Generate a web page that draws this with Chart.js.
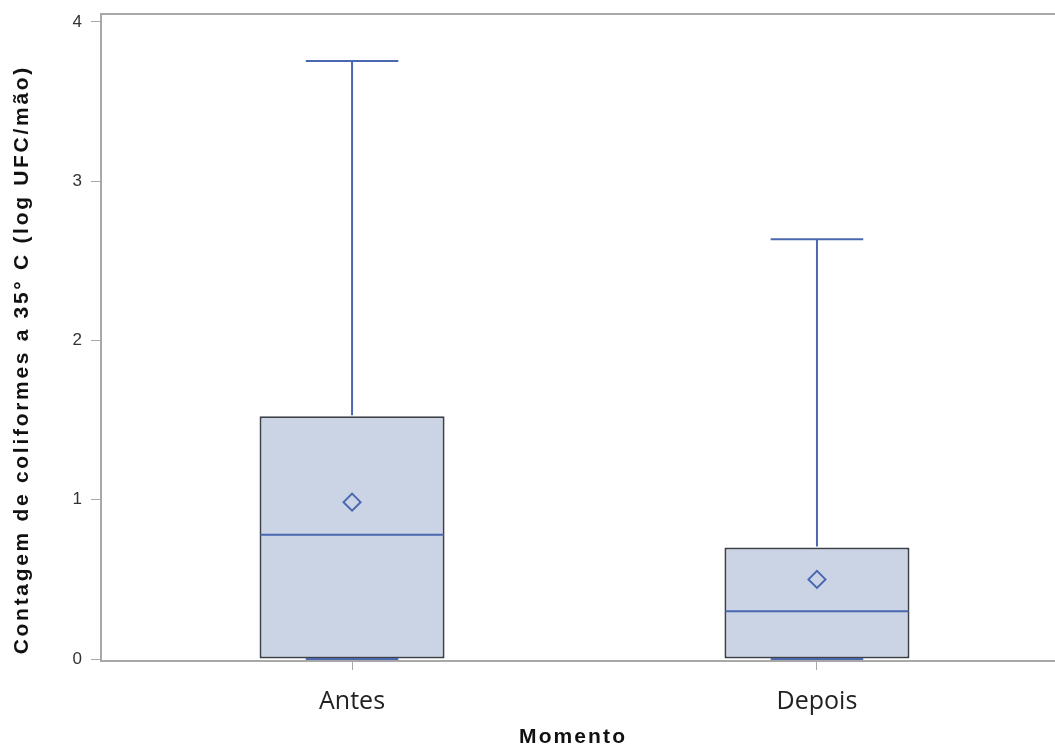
<!DOCTYPE html>
<html>
<head>
<meta charset="utf-8">
<title>Contagem de coliformes</title>
<script src="https://cdn.jsdelivr.net/npm/chart.js@4/dist/chart.umd.min.js"></script>
<style>
  html, body { margin: 0; padding: 0; background: #fff; }
  #wrap { width: 1055px; height: 747px; position: relative; }
</style>
</head>
<body>
<div id="wrap"><canvas id="boxChart"></canvas></div>
<script>
// summary statistics per moment (log UFC/mão)
const categories = ['Antes', 'Depois'];
const minVals = [0, 0];
const q1Vals = [0, 0];
const medianVals = [0.78, 0.30];
const q3Vals = [1.525, 0.70];
const maxVals = [3.755, 2.635];
const meanVals = [0.985, 0.50];
const yTicks = [0, 1, 2, 3, 4];

const xTitle = 'Momento';
const yTitle = 'Contagem de coliformes a 35° C (log UFC/mão)';

const boxFill = '#cbd4e4';
const boxEdge = '#3b4049';
const blue = '#4a67b0';
const axisGray = '#a8a8a8';

const positions = categories.map((c, i) => i + 1);

// spaced-out bold text, drawn glyph by glyph and centred on (0,0)
function spacedText(ctx, text, spacing) {
  const widths = [...text].map(ch => ctx.measureText(ch).width);
  const total = widths.reduce((a, b) => a + b, 0) + spacing * (widths.length - 1);
  let pos = -total / 2;
  [...text].forEach((ch, i) => {
    ctx.fillText(ch, pos, 0);
    pos += widths[i] + spacing;
  });
}

// whiskers, caps, medians, frame top line and axis titles
const boxExtras = {
  id: 'boxExtras',
  afterDatasetsDraw(chart) {
    const ctx = chart.ctx;
    const x = chart.scales.x, y = chart.scales.y;
    const bars = chart.getDatasetMeta(0).data;
    ctx.save();
    ctx.strokeStyle = blue;
    ctx.lineWidth = 2;
    bars.forEach((bar, i) => {
      const cx = x.getPixelForValue(positions[i]);
      const half = bar.width / 2;
      const cap = bar.width / 4;
      const yMax = y.getPixelForValue(maxVals[i]);
      const yQ3 = y.getPixelForValue(q3Vals[i]);
      const yQ1 = y.getPixelForValue(q1Vals[i]);
      const yMin = y.getPixelForValue(minVals[i]);
      const yMed = y.getPixelForValue(medianVals[i]);
      ctx.beginPath();
      ctx.moveTo(cx, yQ3 - 1); ctx.lineTo(cx, yMax);
      ctx.moveTo(cx - cap, yMax); ctx.lineTo(cx + cap, yMax);
      ctx.moveTo(cx, yQ1); ctx.lineTo(cx, yMin);
      ctx.moveTo(cx - cap, yMin); ctx.lineTo(cx + cap, yMin);
      ctx.moveTo(cx - half + 1, yMed); ctx.lineTo(cx + half - 1, yMed);
      ctx.stroke();
    });
    ctx.strokeStyle = axisGray;
    ctx.lineWidth = 2;
    ctx.beginPath();
    ctx.moveTo(chart.chartArea.left, chart.chartArea.top);
    ctx.lineTo(chart.chartArea.right, chart.chartArea.top);
    ctx.stroke();
    ctx.restore();
  },
  afterDraw(chart) {
    const ctx = chart.ctx;
    ctx.save();
    ctx.fillStyle = '#111';
    ctx.font = 'bold 21px "Liberation Sans", Arial, sans-serif';
    ctx.textAlign = 'left';
    ctx.textBaseline = 'middle';
    ctx.save();
    ctx.translate(572, 737);
    spacedText(ctx, xTitle, 2.1);
    ctx.restore();
    ctx.save();
    ctx.translate(22, 361);
    ctx.rotate(-Math.PI / 2);
    spacedText(ctx, yTitle, 2.7);
    ctx.restore();
    ctx.restore();
  }
};

new Chart(document.getElementById('boxChart'), {
  type: 'bar',
  data: {
    datasets: [
      {
        type: 'bar',
        label: 'box',
        data: positions.map((p, i) => ({ x: p, y: [q1Vals[i], q3Vals[i]] })),
        backgroundColor: boxFill,
        borderColor: boxEdge,
        borderWidth: 2,
        borderSkipped: false,
        categoryPercentage: 1,
        barPercentage: 0.398,
        order: 2
      },
      {
        type: 'scatter',
        label: 'média',
        data: positions.map((p, i) => ({ x: p, y: meanVals[i] })),
        pointStyle: 'rectRot',
        pointRadius: 8.5,
        borderColor: blue,
        borderWidth: 2,
        backgroundColor: 'rgba(0,0,0,0)',
        order: 1
      }
    ]
  },
  options: {
    responsive: true,
    maintainAspectRatio: false,
    animation: false,
    layout: { autoPadding: false, padding: { top: 14, right: 0, left: 0, bottom: 0 } },
    plugins: { legend: { display: false }, tooltip: { enabled: false } },
    scales: {
      x: {
        type: 'linear',
        offset: false,
        min: 0.46,
        max: 2.512,
        afterBuildTicks: (s) => { s.ticks = positions.map(v => ({ value: v })); },
        afterFit: (s) => { s.height = 86; s.paddingLeft = 0; s.paddingRight = 0; },
        ticks: {
          callback: (v) => categories[v - 1],
          color: '#222',
          font: { family: 'Open Sans', size: 25 },
          padding: 17,
          maxRotation: 0
        },
        grid: { offset: false, drawOnChartArea: false, tickLength: 9, color: axisGray, tickColor: axisGray },
        border: { color: axisGray, width: 2 }
      },
      y: {
        min: -0.0125,
        max: 4.05,
        afterBuildTicks: (s) => { s.ticks = yTicks.map(v => ({ value: v })); },
        afterFit: (s) => { s.width = 101; s.paddingTop = 0; s.paddingBottom = 0; },
        ticks: {
          color: '#333',
          font: { family: 'Liberation Sans', size: 17 },
          padding: 9
        },
        grid: { drawOnChartArea: false, tickLength: 10, color: axisGray, tickColor: axisGray },
        border: { color: axisGray, width: 2 }
      }
    }
  },
  plugins: [boxExtras]
});
</script>
</body>
</html>
